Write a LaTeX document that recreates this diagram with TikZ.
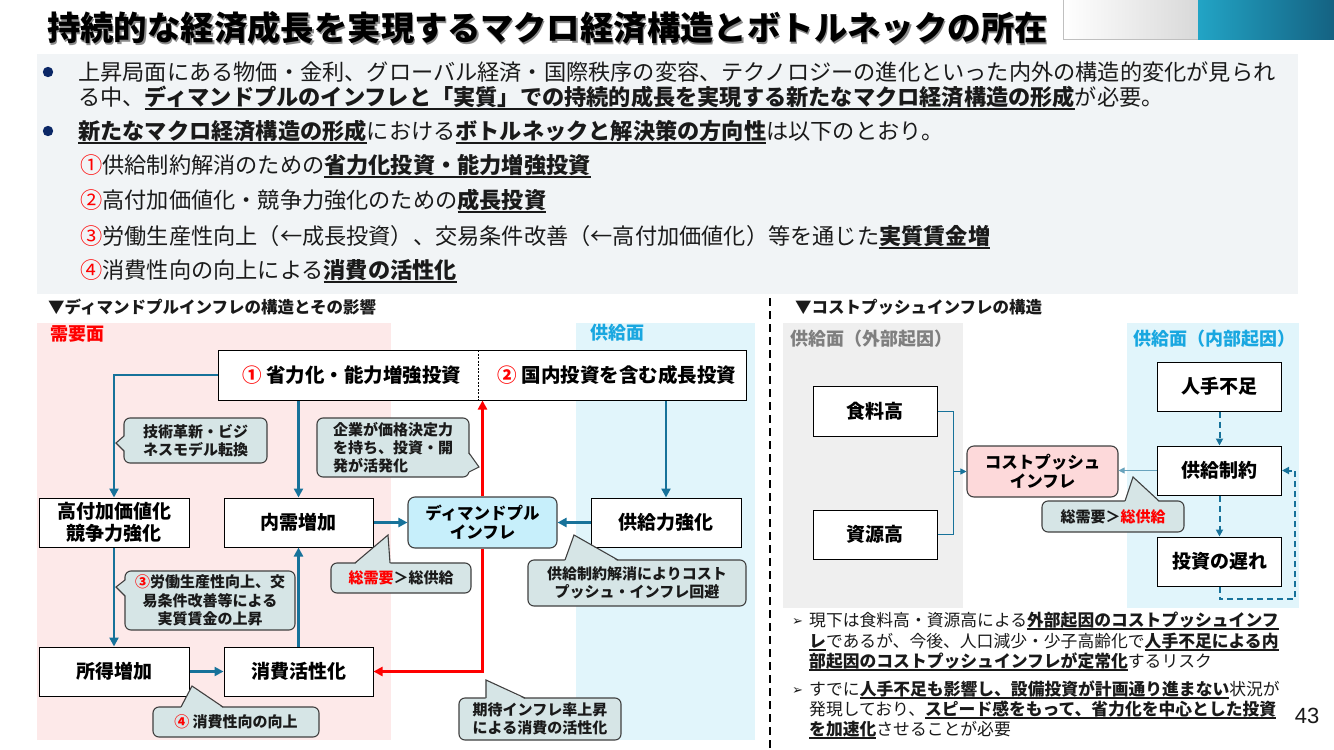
\documentclass[tikz,border=0pt]{standalone}
\usepackage{fontspec}
\setmainfont{Noto Sans CJK JP}
\newfontfamily\djv{DejaVu Sans}
\newfontfamily\lib{Liberation Sans}
\usetikzlibrary{arrows.meta}
\definecolor{panelbg}{HTML}{F1F4F6}
\definecolor{navyc}{HTML}{0B2766}
\definecolor{pinkbg}{HTML}{FDE9E9}
\definecolor{bluebg}{HTML}{E1F5FB}
\definecolor{graybg}{HTML}{EFEFEF}
\definecolor{tealc}{HTML}{17729A}
\definecolor{cofill}{HTML}{D6E5E6}
\definecolor{coline}{HTML}{404040}
\definecolor{dpfill}{HTML}{C7EFFB}
\definecolor{cpfill}{HTML}{FDD9DA}
\definecolor{lblue}{HTML}{19A7E0}
\definecolor{txt}{HTML}{1A1A1A}
\definecolor{myred}{HTML}{FF0000}
\definecolor{glabel}{HTML}{7F7F7F}
\definecolor{gradA}{HTML}{22A4C5}
\definecolor{gradB}{HTML}{146282}
\newcommand\ub[1]{\textbf{\setbox0\hbox{#1}\rlap{\smash{\rule[-0.19em]{\wd0}{0.06em}}}\box0}}
\newcommand\rc[1]{\textcolor{myred}{#1}}
\tikzset{
 bx/.style={draw=black, line width=1pt, fill=white, inner sep=0pt, align=center, text=black, font=\fontsize{19}{22}\selectfont\bfseries},
 cobox/.style={draw=coline, line width=1.1pt, fill=cofill, rounded corners=6pt, inner sep=0pt, align=center, text=txt, font=\fontsize{15}{18.5}\selectfont\bfseries},
 arr/.style={draw=tealc, line width=2.6pt, -{Triangle[length=9pt,width=9pt]}},
 redarr/.style={draw=myred, line width=2.6pt, -{Triangle[length=9pt,width=9pt]}},
 thinln/.style={draw=tealc, line width=1pt},
 thinarr/.style={draw=tealc, line width=1pt, -{Triangle[length=6pt,width=6pt]}},
 dasharr/.style={draw=tealc, line width=2pt, dash pattern=on 6pt off 4pt, -{Triangle[length=7pt,width=7pt]}},
 ptrfill/.style={fill=cofill},
 ptrline/.style={draw=coline, line width=1.1pt, line join=miter},
 mt/.style={anchor=base west, inner sep=0pt, text=txt, font=\fontsize{22.2}{25}\selectfont},
 rt/.style={anchor=base west, inner sep=0pt, text=txt, font=\fontsize{16.8}{20}\selectfont},
 hd/.style={anchor=west, inner sep=0pt, text=txt, font=\fontsize{16.5}{18}\selectfont\bfseries},
 sec/.style={anchor=west, inner sep=0pt, font=\fontsize{18}{20}\selectfont\bfseries},
}
\begin{document}
\begin{tikzpicture}[x=1pt,y=-1pt]
\useasboundingbox (0,0) rectangle (1334,750);
\fill[white] (0,0) rectangle (1334,750);
% top-right decoration
\shade[left color=white, right color=black!15] (1063,0) rectangle (1198,39);
\draw[black!25, line width=0.8pt] (1063,0) -- (1063,39) -- (1198,39);
\shade[left color=gradA, right color=gradB] (1198,0) rectangle (1334,39);
% title
\node[anchor=west, inner sep=0pt, text=black!45, font=\fontsize{33.4}{36}\selectfont\bfseries] (titlesh) at (48.3,29.3) {持続的な経済成長を実現するマクロ経済構造とボトルネックの所在};
\node[anchor=west, inner sep=0pt, text=black, font=\fontsize{33.4}{36}\selectfont\bfseries] (title) at (47,28) {持続的な経済成長を実現するマクロ経済構造とボトルネックの所在};
% summary panel
\fill[panelbg] (37,54) rectangle (1298,294);
\fill[navyc] (48,72) circle (5.2);
\fill[navyc] (48,131) circle (5.2);
\node[mt] (b1a) at (78,80.5) {上昇局面にある物価・金利、グローバル経済・国際秩序の変容、テクノロジーの進化といった内外の構造的変化が見られ};
\node[mt] (b1b) at (78,105.5) {る中、\ub{ディマンドプルのインフレと「実質」での持続的成長を実現する新たなマクロ経済構造の形成}が必要。};
\node[mt] (b2) at (78,139.5) {\ub{新たなマクロ経済構造の形成}における\ub{ボトルネックと解決策の方向性}は以下のとおり。};
\node[mt] (i1) at (80,173.5) {\rc{①}供給制約解消のための\ub{省力化投資・能力増強投資}};
\node[mt] (i2) at (80,208.5) {\rc{②}高付加価値化・競争力強化のための\ub{成長投資}};
\node[mt] (i3) at (80,244.5) {\rc{③}労働生産性向上（←成長投資）、交易条件改善（←高付加価値化）等を通じた\ub{実質賃金増}};
\node[mt] (i4) at (80,278.5) {\rc{④}消費性向の向上による\ub{消費の活性化}};
% section headers
\node[hd] (hl) at (48,307) {▼ディマンドプルインフレの構造とその影響};
\node[hd] (hr) at (795,307) {▼コストプッシュインフレの構造};
\draw[black, line width=1.8pt, dash pattern=on 8pt off 5pt] (770,298) -- (770,750);
% regions left
\fill[pinkbg] (37,323) rectangle (391,740);
\fill[bluebg] (576,323) rectangle (755,740);
\node[sec, text=myred] (ld) at (50,334) {需要面};
\node[sec, text=lblue] (ls) at (590,333) {供給面};
% regions right
\fill[graybg] (783,323) rectangle (963,608);
\fill[bluebg] (1127,323) rectangle (1299,608);
\node[sec, text=glabel] (rg) at (790,339) {供給面（外部起因）};
\node[sec, text=lblue] (rb) at (1133,339) {供給面（内部起因）};
% left boxes
\node[bx, minimum width=528pt, minimum height=50pt] (top) at (482,375) {};
\draw[black, line width=0.7pt, dash pattern=on 2pt off 1.5pt] (478,350) -- (478,400);
\node[inner sep=0pt, font=\fontsize{19.5}{22}\selectfont\bfseries] (top1) at (352,375) {\rc{①} 省力化・能力増強投資};
\node[inner sep=0pt, font=\fontsize{19.5}{22}\selectfont\bfseries] (top2) at (617,375) {\rc{②} 国内投資を含む成長投資};
\node[bx, minimum width=150pt, minimum height=49pt] (hv) at (114,522.5) {高付加価値化\\競争力強化};
\node[bx, minimum width=149pt, minimum height=49pt] (nj) at (298.5,522.5) {内需増加};
\node[bx, minimum width=150pt, minimum height=49pt] (sy) at (114,671.5) {所得増加};
\node[bx, minimum width=149pt, minimum height=49pt] (sk) at (298.5,671.5) {消費活性化};
\node[bx, minimum width=150pt, minimum height=49pt] (kk) at (666,522.5) {供給力強化};
\node[bx, draw=coline, line width=1.1pt, fill=dpfill, rounded corners=7pt, minimum width=149pt, minimum height=51pt, font=\fontsize{16.5}{19}\selectfont\bfseries] (dp) at (482.5,522.5) {ディマンドプル\\インフレ};
% left connectors
\draw[arr] (top.west) -| (hv.north);
\draw[arr] (top.south -| nj.north) -- (nj.north);
\draw[arr] (top.south -| kk.north) -- (kk.north);
\draw[arr] (hv.south) -- (sy.north);
\draw[arr] (sk.north) -- (nj.south);
\draw[arr] (sy.east) -- (sk.west);
\draw[arr] (nj.east) -- (dp.west);
\draw[arr] (kk.west) -- (dp.east);
\draw[redarr] (dp.north) -- (dp.north |- top.south);
\draw[redarr] (dp.south) -- (dp.south |- sk.east) -- (sk.east);
% callouts left
\node[cobox, minimum width=143pt, minimum height=45pt] (c1) at (195.5,440.5) {技術革新・ビジ\\ネスモデル転換};
\fill[ptrfill] (125.6,435.5) -- (116,443) -- (125.6,451.5) -- cycle;
\draw[ptrline] (124,436) -- (116,443) -- (124,451);
\node[cobox, minimum width=152pt, minimum height=59pt, align=left, font=\fontsize{15}{18}\selectfont\bfseries] (c2) at (393,447.5) {企業が価格決定力\\を持ち、投資・開\\発が活発化};
\fill[ptrfill] (467.4,452.5) -- (479,467) -- (467.4,472.5) -- cycle;
\draw[ptrline] (469,453) -- (479,467) -- (469,472);
\node[cobox, minimum width=170pt, minimum height=59pt] (c3) at (210,600.5) {\rc{③}労働生産性向上、交\\易条件改善等による\\実質賃金の上昇};
\fill[ptrfill] (126.6,579.5) -- (116,587) -- (126.6,596.5) -- cycle;
\draw[ptrline] (125,580) -- (116,587) -- (125,596);
\node[cobox, minimum width=140pt, minimum height=30pt] (c4) at (401,578) {\rc{総需要}＞総供給};
\fill[ptrfill] (354.5,564.6) -- (388,535) -- (390.5,564.6) -- cycle;
\draw[ptrline] (355,563) -- (388,535) -- (390,563);
\node[cobox, minimum width=218pt, minimum height=46pt] (c5) at (637,583) {供給制約解消によりコスト\\プッシュ・インフレ回避};
\fill[ptrfill] (564.5,561.6) -- (574,535) -- (618.5,561.6) -- cycle;
\draw[ptrline] (565,560) -- (574,535) -- (618,560);
\node[cobox, minimum width=162pt, minimum height=42pt] (c6) at (540,719) {期待インフレ率上昇\\による消費の活性化};
\fill[ptrfill] (485.5,699.6) -- (486,680) -- (525.5,699.6) -- cycle;
\draw[ptrline] (486,698) -- (486,680) -- (525,698);
\node[cobox, minimum width=166pt, minimum height=30pt] (c7) at (236,722) {\rc{④} 消費性向の向上};
\fill[ptrfill] (180.5,708.6) -- (192,686) -- (223.5,708.6) -- cycle;
\draw[ptrline] (181,707) -- (192,686) -- (223,707);
% right boxes
\node[bx, minimum width=124pt, minimum height=50pt] (food) at (875,411) {食料高};
\node[bx, minimum width=124pt, minimum height=49pt] (res) at (875,534.5) {資源高};
\node[bx, draw=coline, line width=1.1pt, fill=cpfill, rounded corners=7pt, minimum width=151pt, minimum height=51pt, font=\fontsize{16.5}{19}\selectfont\bfseries] (cp) at (1042.5,471.5) {コストプッシュ\\インフレ};
\node[bx, minimum width=124pt, minimum height=49pt] (hs) at (1219.5,386.5) {人手不足};
\node[bx, minimum width=124pt, minimum height=49pt] (ks) at (1219.5,470.5) {供給制約};
\node[bx, minimum width=124pt, minimum height=49pt] (td) at (1219.5,561.5) {投資の遅れ};
% right connectors
\coordinate (jm) at (953,471.5);
\coordinate (lp) at (1295,599);
\draw[thinln] (food.east) -| (jm);
\draw[thinln] (res.east) -| (jm);
\draw[thinarr] (jm) -- (cp.west);
\draw[thinarr, draw=tealc!65] (ks.west) -- (ks.west -| cp.east);
\draw[dasharr] (hs.south) -- (ks.north);
\draw[dasharr] (ks.south) -- (td.north);
\draw[dasharr] (td.south) |- (lp) |- (ks.east);
% right callout
\node[cobox, minimum width=142pt, minimum height=31pt] (c8) at (1113,516.5) {総需要＞\rc{総供給}};
\fill[ptrfill] (1124.5,502.6) -- (1133,477) -- (1159.5,502.6) -- cycle;
\draw[ptrline] (1125,501) -- (1133,477) -- (1159,501);
% right text
\node[anchor=base west, inner sep=0pt, text=txt, font=\djv\fontsize{13}{14}\selectfont] (ar1) at (792,625) {➢};
\node[anchor=base west, inner sep=0pt, text=txt, font=\djv\fontsize{13}{14}\selectfont] (ar2) at (792,694) {➢};
\node[rt] (r1) at (809,626.3) {現下は食料高・資源高による\ub{外部起因のコストプッシュインフ}};
\node[rt] (r2) at (809,647.3) {\ub{レ}であるが、今後、人口減少・少子高齢化で\ub{人手不足による内}};
\node[rt] (r3) at (809,667.3) {\ub{部起因のコストプッシュインフレが定常化}するリスク};
\node[rt] (r4) at (809,695.3) {すでに\ub{人手不足も影響し、設備投資が計画通り進まない}状況が};
\node[rt] (r5) at (809,715.3) {発現しており、\ub{スピード感をもって、省力化を中心とした投資}};
\node[rt] (r6) at (809,735.3) {\ub{を加速化}させることが必要};
\node[inner sep=0pt, text=txt, font=\lib\fontsize{22}{24}\selectfont] (pg) at (1307,716) {43};
\end{tikzpicture}
\end{document}
